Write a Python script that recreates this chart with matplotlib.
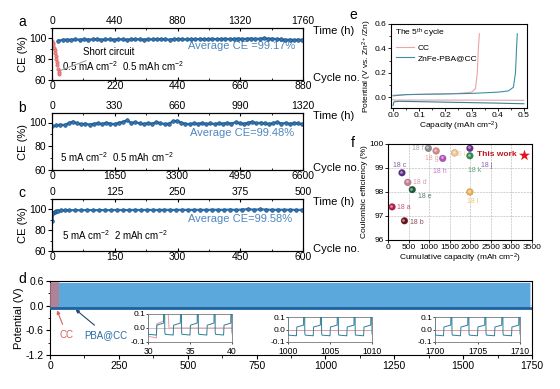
import numpy as np
import matplotlib
matplotlib.use("Agg")
import matplotlib.pyplot as plt
from matplotlib.ticker import AutoMinorLocator

plt.rcParams['font.family'] = ['Liberation Sans', 'DejaVu Sans']
plt.rcParams['mathtext.fontset'] = 'custom'
plt.rcParams['mathtext.rm'] = 'Liberation Sans'
plt.rcParams['mathtext.it'] = 'Liberation Sans:italic'
plt.rcParams['axes.linewidth'] = 0.8

# ---------------- data ----------------
# panel a (0.5 mA cm-2, 0.5 mAh cm-2)
a_cycles_max, a_time_max = 880, 1760
a_cc_cycle = [1, 3, 5, 7, 9, 11, 13, 15, 17, 19, 21, 23, 25]
a_cc_ce = [97.5, 96.0, 94.0, 91.0, 88.5, 86.0, 83.0, 80.0, 77.0, 74.0, 71.0, 68.0, 66.0]
a_ce = [97.8, 98.6, 98.9, 98.7, 99.0, 98.8, 99.1, 98.9, 99.0, 99.2, 98.8, 99.0,
        99.1, 98.9, 99.2, 99.0, 98.8, 99.1, 99.3, 99.0, 98.9, 99.2, 99.0, 99.1,
        99.3, 99.0, 98.9, 99.2, 99.4, 99.1, 99.0, 99.3, 99.2, 99.5, 99.1, 99.3,
        99.6, 99.2, 99.4, 99.7, 99.3, 99.5, 99.8, 99.4, 99.6, 99.9, 99.5, 99.7,
        100.1, 99.6, 99.8, 99.3, 99.1, 98.6, 98.9, 98.4, 98.8, 98.5]

# panel b (5 mA cm-2, 0.5 mAh cm-2)
b_cycles_max, b_time_max = 6600, 1320
b_ce = [96.8, 97.5, 98.2, 97.9, 99.5, 100.8, 99.2, 98.6, 99.0, 98.3, 98.9, 99.4,
        98.7, 99.8, 99.1, 98.6, 99.9, 100.5, 101.8, 99.6, 100.3, 99.2, 98.8, 99.5,
        99.0, 100.2, 99.4, 98.7, 99.1, 100.9, 101.5, 99.8, 99.0, 98.6, 99.3, 98.9,
        99.6, 98.8, 99.2, 98.7, 99.4, 99.0, 99.7, 99.1, 100.2, 99.5, 98.9, 99.8,
        100.6, 99.3, 99.9, 99.2, 98.8, 99.5, 100.3, 99.1, 99.7, 98.9, 99.6, 99.2, 98.6]

# panel c (5 mA cm-2, 2 mAh cm-2)
c_cycles_max, c_time_max = 600, 500
c_start_cycle = [1, 3, 6, 10, 15, 22, 30]
c_start_ce = [89.0, 96.8, 97.8, 98.3, 98.7, 99.0, 99.2]
c_ce = [99.2, 99.3, 99.2, 99.4, 99.3, 99.3, 99.4, 99.3, 99.5, 99.4, 99.4, 99.5,
        99.4, 99.5, 99.5, 99.4, 99.6, 99.5, 99.5, 99.6, 99.5, 99.6, 99.6, 99.5,
        99.7, 99.6, 99.6, 99.8, 99.5, 99.9, 100.2, 99.7, 100.1, 99.8, 99.6, 99.7,
        99.6, 99.7, 99.5, 99.6]

# panel d: one plating/stripping cycle (2 h)
cyc_t = [0.0, 0.05, 0.95, 1.0, 1.05, 1.85, 1.95]
cyc_v_pba = [-0.03, -0.045, -0.05, -0.05, 0.02, 0.035, 0.55]
cyc_v_cc = [-0.04, -0.06, -0.07, -0.07, 0.03, 0.05, 0.58]
pba_hours, cc_short_h, d_end = 1745, 32, 1750
insets = [(30, 40, [30, 35, 40]), (1000, 1010, [1000, 1005, 1010]),
          (1700, 1710, [1700, 1705, 1710])]

# panel e: 5th cycle
e_cc_chg_cap = [0, 0.05, 0.10, 0.15, 0.20, 0.25, 0.30, 0.315, 0.322, 0.326, 0.33]
e_cc_chg_v = [0.015, 0.02, 0.022, 0.025, 0.027, 0.03, 0.04, 0.07, 0.2, 0.4, 0.52]
e_cc_dis_cap = [0, 0.005, 0.05, 0.25, 0.5]
e_cc_dis_v = [-0.02, -0.025, -0.025, -0.025, -0.027]
e_pba_chg_cap = [0, 0.05, 0.10, 0.20, 0.30, 0.40, 0.44, 0.46, 0.468, 0.472, 0.475]
e_pba_chg_v = [0.01, 0.02, 0.022, 0.025, 0.03, 0.04, 0.05, 0.08, 0.2, 0.4, 0.52]
e_pba_dis_cap = [0, 0.003, 0.02, 0.1, 0.2, 0.3, 0.4, 0.5]
e_pba_dis_v = [-0.07, -0.04, -0.035, -0.038, -0.042, -0.046, -0.05, -0.055]

# panel f: literature comparison
f_labels = ['18 a', '18 b', '18 c', '18 d', '18 e', '18 f',
            '18 g', '18 h', '18 i', '18 j', '18 k', '18 l']
f_cap = [100, 400, 340, 480, 590, 980, 1170, 1330, 1620, 1990, 1990, 1990]
f_ce = [97.38, 96.8, 98.8, 98.4, 98.1, 99.82, 99.71, 99.4, 99.63, 99.82, 99.51, 98.0]
f_colors = ['#b51f4a', '#6e0f1e', '#5b2a86', '#c77c98', '#1d5c3b', '#8a8a8a',
            '#d8858a', '#b64fc2', '#f2c58e', '#6f2c91', '#2e8b4e', '#f0b14a']
this_work = (3300, 99.55)

# ---------------- figure ----------------
W, H = 560, 389
fig = plt.figure(figsize=(W / 100, H / 100), dpi=100)


def px_axes(l, t, r, b):
    return fig.add_axes([l / W, 1 - b / H, (r - l) / W, (b - t) / H])


blue = '#2f78b8'
blue_edge = '#1d4f80'
avg_col = '#4f87bd'
tick_fs = 7.5


def ce_panel(box, cmax, tmax, ylim, letter, y_letter, cond, cond_xy, avg, avg_xy):
    ax = px_axes(*box)
    ax.set_xlim(0, cmax)
    ax.set_ylim(*ylim)
    ax.set_yticks([60, 80, 100])
    ax.set_xticks(np.linspace(0, cmax, 5))
    ax.xaxis.set_minor_locator(AutoMinorLocator(2))
    ax.yaxis.set_minor_locator(AutoMinorLocator(2))
    ax.tick_params(axis='y', labelsize=tick_fs, length=3, width=0.8, pad=1)
    ax.tick_params(axis='y', which='minor', length=1.8, width=0.6)
    ax.tick_params(axis='x', which='both', direction='in', labelsize=tick_fs,
                   length=2.5, width=0.8, pad=1)
    ax.tick_params(axis='x', which='minor', length=1.5, width=0.6)
    ax.set_ylabel('CE (%)', fontsize=8, labelpad=1)
    top = ax.twiny()
    top.set_xlim(0, tmax)
    top.set_xticks(np.linspace(0, tmax, 5))
    top.xaxis.set_minor_locator(AutoMinorLocator(2))
    top.tick_params(which='both', direction='in', labelsize=tick_fs, length=2.5,
                    width=0.8, pad=1.5)
    top.tick_params(which='minor', length=1.5, width=0.6)
    ax.text(*cond_xy, cond, transform=ax.transAxes, fontsize=7)
    ax.text(*avg_xy, avg, transform=ax.transAxes, fontsize=8, color=avg_col)
    fig.text(22 / W, 1 - y_letter / H, letter, fontsize=10, ha='center', va='center')
    fig.text(313 / W, 1 - (box[1] + 3) / H, 'Time (h)', fontsize=8, va='center')
    fig.text(313 / W, 1 - (box[3] - 2) / H, 'Cycle no.', fontsize=8, va='center')
    return ax


def ce_plot(ax, x, y):
    ax.plot(x, y, '-', color=blue, lw=1.6, zorder=2)
    ax.plot(x, y, 'o', ms=2.6, mfc=blue, mec=blue_edge, mew=0.5, zorder=3)


# panel a
ax_a = ce_panel((52, 28, 303, 80), a_cycles_max, a_time_max, (60, 110), 'a', 22,
                '0.5 mA cm$^{-2}$  0.5 mAh cm$^{-2}$', (0.04, 0.17),
                'Average CE =99.17%', (0.54, 0.6))
ce_plot(ax_a, np.linspace(22, 878, len(a_ce)), a_ce)
ax_a.plot(a_cc_cycle, a_cc_ce, 'o', ms=2.4, mfc='#f08a8a', mec='#d05a5a', mew=0.4, zorder=4)
ax_a.annotate('Short circuit', xy=(18, 68), xytext=(110, 87), fontsize=7,
              va='center', arrowprops=dict(arrowstyle='-', color='#a0a0a0', lw=0.8))

# panel b
ax_b = ce_panel((52, 113, 303, 170), b_cycles_max, b_time_max, (60, 108), 'b', 108,
                '5 mA cm$^{-2}$  0.5 mAh cm$^{-2}$', (0.03, 0.14),
                'Average CE=99.48%', (0.55, 0.6))
ce_plot(ax_b, np.linspace(0, 6580, len(b_ce)), b_ce)

# panel c
ax_c = ce_panel((52, 199, 303, 251), c_cycles_max, c_time_max, (60, 110), 'c', 193,
                '5 mA cm$^{-2}$  2 mAh cm$^{-2}$', (0.04, 0.22),
                'Average CE=99.58%', (0.54, 0.56))
ce_plot(ax_c, c_start_cycle + list(np.linspace(40, 598, len(c_ce))),
        c_start_ce + c_ce)

# panel d
ax_d = px_axes(50, 281, 532, 355)
n_pba = int(pba_hours // 2)
t_pba = (np.arange(n_pba)[:, None] * 2 + np.array(cyc_t)[None, :]).ravel()
v_pba = np.tile(cyc_v_pba, n_pba)
n_cc = int(cc_short_h // 2)
t_cc = (np.arange(n_cc)[:, None] * 2 + np.array(cyc_t)[None, :]).ravel()
v_cc = np.tile(cyc_v_cc, n_cc)
t_cc = np.append(t_cc, [cc_short_h + 0.5, d_end])
v_cc = np.append(v_cc, [0.0, 0.0])

ax_d.plot(t_cc, v_cc, color='#d9a0a8', lw=0.5, zorder=1)
ax_d.plot(t_pba, v_pba, color='#5aa8dc', lw=0.3, zorder=2)
ax_d.fill_between([0, cc_short_h + 2], -0.06, 0.56, color='#c27a86', alpha=0.8, lw=0, zorder=3)
ax_d.plot([0, pba_hours], [-0.05, -0.05], color='#1e62a0', lw=2.0, zorder=4)
ax_d.set_xlim(0, d_end)
ax_d.set_ylim(-1.2, 0.6)
ax_d.set_yticks([0.6, 0.0, -0.6, -1.2])
ax_d.set_yticklabels(['0.6', '0.0', '-0.6', '-1.2'])
ax_d.set_xticks(np.arange(0, 1751, 250))
ax_d.xaxis.set_minor_locator(AutoMinorLocator(2))
ax_d.yaxis.set_minor_locator(AutoMinorLocator(2))
ax_d.tick_params(labelsize=tick_fs, length=3, width=0.8, pad=1.5)
ax_d.tick_params(which='minor', length=1.8, width=0.6)
ax_d.set_ylabel('Potential (V)', fontsize=8, labelpad=1)
ax_d.annotate('CC', xy=(22, -0.05), xytext=(35, -0.78), fontsize=7, color='#d86060',
              arrowprops=dict(arrowstyle='-|>', color='#d86060', lw=0.8, mutation_scale=5))
ax_d.annotate('PBA@CC', xy=(85, -0.05), xytext=(125, -0.78), fontsize=7, color='#2a6aa8',
              arrowprops=dict(arrowstyle='-|>', color='#1d4a70', lw=0.8, mutation_scale=5))
fig.text(22 / W, 1 - 279 / H, 'd', fontsize=10, ha='center', va='center')

inset_boxes = [(148, 314, 232, 342), (288, 317, 372, 342), (435, 317, 520, 342)]
for (x0, x1, xt), box in zip(insets, inset_boxes):
    ins = px_axes(*box)
    ins.axhline(0, color='#c8b8bc', lw=0.6, zorder=1)
    ins.plot(t_cc, v_cc, color='#e59aa6', lw=0.7, zorder=2)
    ins.plot(t_pba, v_pba, color='#2f7f99', lw=0.7, zorder=3)
    ins.set_xlim(x0, x1)
    ins.set_ylim(-0.1, 0.1)
    ins.set_xticks(xt)
    ins.set_yticks([0.1, 0.0, -0.1])
    ins.set_yticklabels(['0.1', '0.0', '-0.1'])
    ins.tick_params(axis='y', labelsize=6, length=1.5, width=0.5, pad=0.5)
    ins.tick_params(axis='x', labelsize=6.2, length=1.5, width=0.5, pad=1.8)
    for s in ins.spines.values():
        s.set_color('#777777')
        s.set_linewidth(0.6)

# panel e
ax_e = px_axes(391, 24, 527, 108)
ax_e.plot(e_cc_dis_cap, e_cc_dis_v, color='#d6a6aa', lw=0.8)
ax_e.plot(e_pba_dis_cap, e_pba_dis_v, color='#3a7f92', lw=0.8)
ax_e.plot(e_cc_chg_cap, e_cc_chg_v, color='#efa3a3', lw=0.8, label='CC')
ax_e.plot(e_pba_chg_cap, e_pba_chg_v, color='#3f8fa3', lw=0.8, label='ZnFe-PBA@CC')
ax_e.set_xlim(-0.008, 0.512)
ax_e.set_ylim(-0.09, 0.6)
ax_e.set_xticks(np.arange(0, 0.51, 0.1))
ax_e.set_yticks([0.0, 0.2, 0.4, 0.6])
ax_e.xaxis.set_minor_locator(AutoMinorLocator(2))
ax_e.yaxis.set_minor_locator(AutoMinorLocator(2))
ax_e.tick_params(labelsize=6, length=2, width=0.6, pad=1)
ax_e.tick_params(which='minor', length=1.2, width=0.5)
ax_e.set_xlabel('Capacity (mAh cm$^{-2}$)', fontsize=6, labelpad=0.5)
ax_e.set_ylabel('Potential (V vs. Zn$^{2+}$/Zn)', fontsize=6, labelpad=1)
ax_e.text(0.03, 0.86, 'The 5$^{\\rm th}$ cycle', transform=ax_e.transAxes, fontsize=6)
ax_e.legend(loc='upper left', bbox_to_anchor=(0.0, 0.82), fontsize=6, frameon=False,
            handlelength=2.2, handletextpad=0.4, labelspacing=0.3, borderaxespad=0.2)
fig.text(353 / W, 1 - 15 / H, 'e', fontsize=10, ha='center', va='center')

# panel f
ax_f = px_axes(388, 144, 532, 240)
ax_f.grid(True, ls='--', lw=0.4, color='#b0b0b0')
ax_f.set_axisbelow(True)
ax_f.scatter(f_cap, f_ce, s=24, c=f_colors, edgecolors='#00000040', linewidths=0.4, zorder=3)
ax_f.scatter(np.array(f_cap) - 25, np.array(f_ce) + 0.04, s=4, c='white', alpha=0.5,
             lw=0, zorder=4)
ax_f.scatter(*this_work, marker='*', s=70, color='#e0141b', zorder=5, lw=0)
ax_f.text(this_work[0] - 180, this_work[1], 'This work', color='#c0141b', fontsize=6,
          fontweight='bold', ha='right', va='center')
lab_off = [(130, -0.02), (130, -0.08), (-50, 0.3), (130, 0.0), (130, -0.3), (-120, 0.0),
           (-100, -0.3), (-80, -0.55), (-20, -0.05), (260, -0.7), (-40, -0.6), (-60, -0.4)]
lab_ha = ['left', 'left', 'center', 'left', 'left', 'right',
          'center', 'center', 'left', 'left', 'left', 'left']
for x, y, lb, c, off, ha in zip(f_cap, f_ce, f_labels, f_colors, lab_off, lab_ha):
    ax_f.text(x + off[0], y + off[1], lb, color=c, alpha=0.75, fontsize=5,
              ha=ha, va='center')
ax_f.set_xlim(0, 3500)
ax_f.set_ylim(96, 100)
ax_f.set_xticks(np.arange(0, 3501, 500))
ax_f.set_yticks([96, 97, 98, 99, 100])
ax_f.tick_params(labelsize=6, length=2, width=0.6, pad=1)
ax_f.set_xlabel('Cumulative capacity (mAh cm$^{-2}$)', fontsize=6, labelpad=0.5)
ax_f.set_ylabel('Coulombic efficiency (%)', fontsize=6, labelpad=1)
fig.text(353 / W, 1 - 143 / H, 'f', fontsize=10, ha='center', va='center')

fig.savefig('out.png', dpi=100)
